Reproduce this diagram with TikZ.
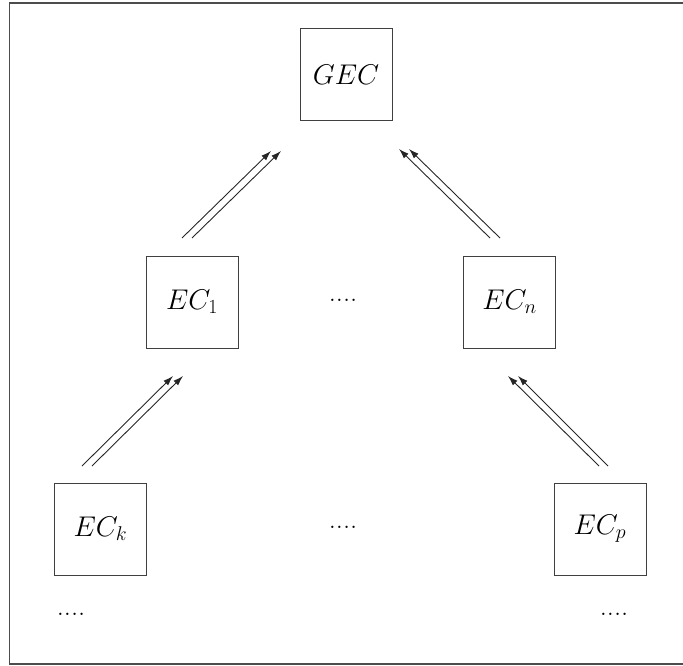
\RequirePackage{fix-cm}
\documentclass[tikz,border=0pt]{standalone}
\usetikzlibrary{arrows.meta}
\begin{document}
\begin{tikzpicture}[x=1pt,y=-1pt,
  box/.style={draw=black!75,line width=1pt,minimum width=92pt,minimum height=92pt,inner sep=0pt,font=\fontsize{28.5}{34}\selectfont},
  dots/.style={inner sep=0pt,font=\fontsize{28.5}{34}\selectfont},
  link/.style={draw=black!85,line width=0.9pt,-{Latex[length=10pt,width=6.5pt]}}]
\useasboundingbox (0,0) rectangle (683,666);
\draw[black!70,line width=1.2pt] (683,3) -- (9.5,3) -- (9.5,664) -- (683,664);
\node[box] (gec) at (346,75) {$GEC$};
\node[box] (ec1) at (192,302) {$EC_1$};
\node[box] (ecn) at (509.5,302) {$EC_n$};
\node[box] (eck) at (100.5,529) {$EC_k$};
\node[box] (ecp) at (600,529) {$EC_p$};
\node[dots] (d1) at (343,300) {....};
\node[dots] (d2) at (343,527) {....};
\node[dots] (d3) at (71,614) {....};
\node[dots] (d4) at (614,614) {....};
% arrow end points
\coordinate (a1) at (182,238); \coordinate (a1e) at (271,151);
\coordinate (a2) at (192,238); \coordinate (a2e) at (281,151);
\coordinate (b1) at (500,238); \coordinate (b1e) at (409,149);
\coordinate (b2) at (490,238); \coordinate (b2e) at (399,149);
\coordinate (c1) at (82,466); \coordinate (c1e) at (173,376);
\coordinate (c2) at (92,466); \coordinate (c2e) at (183,376);
\coordinate (e1) at (608,466); \coordinate (e1e) at (518,376);
\coordinate (e2) at (599,466); \coordinate (e2e) at (508,376);
\draw[link] (a1) -- (a1e);
\draw[link] (a2) -- (a2e);
\draw[link] (b1) -- (b1e);
\draw[link] (b2) -- (b2e);
\draw[link] (c1) -- (c1e);
\draw[link] (c2) -- (c2e);
\draw[link] (e1) -- (e1e);
\draw[link] (e2) -- (e2e);
\end{tikzpicture}
\end{document}
